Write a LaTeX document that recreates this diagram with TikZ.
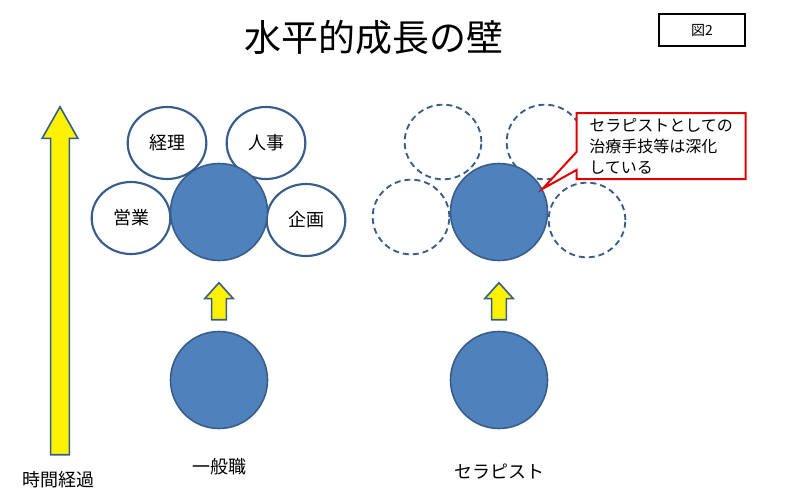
\documentclass[tikz,border=0pt]{standalone}
\usepackage{fontspec}
\setmainfont{Noto Sans CJK JP}
\usetikzlibrary{shapes,arrows,positioning}
\definecolor{fillblue}{RGB}{79,129,189}
\definecolor{lineblue}{RGB}{56,93,138}
\definecolor{calloutred}{RGB}{224,0,0}
\def\Deep{セラピストとしての\\治療手技等は深化\\している}

\begin{document}
\begin{tikzpicture}[% styles used all over the picture
				x=0.75pt,y=-0.75pt,
				every node/.style={
					align=center,	% so that "\\" breaks lines
					inner sep=0pt,
					on grid		% relative placement from centre to centre
				},
				core/.style={circle,draw=lineblue,line width=1.2pt,fill=fillblue,minimum size=72.75pt},
				skill/.style={ellipse,draw=lineblue,line width=1.6pt,fill=white,minimum width=59pt,minimum height=54pt,font=\fontsize{13.5}{16}\selectfont},
				vacant/.style={ellipse,draw=lineblue,line width=1.4pt,dash pattern=on 4.5pt off 3pt,minimum width=57.5pt,minimum height=56pt},
				risearrow/.style={single arrow,shape border rotate=90,draw=lineblue,line width=1.2pt,fill=yellow,single arrow head indent=0pt},
				caption/.style={font=\fontsize{13.5}{16}\selectfont}
			]
			\useasboundingbox (0,0) rectangle (791,500);
			% title and figure number
			\node (T) at (374,37) {\fontsize{27.75}{32}\selectfont 水平的成長の壁};
			\node[draw,line width=1.5pt,minimum width=64pt,minimum height=24pt,font=\fontsize{10.5}{12}\selectfont] (F) at (702,30) {図2};
			% time axis
			\node[risearrow,inner sep=6.4pt,single arrow head extend=6.4pt,single arrow tip angle=59,minimum height=261pt] (TA) at (60,289) {};
			\node[caption] (TL) at (58,480) {時間経過};
			% general staff
			\coordinate (G0) at (219,212);
			\node[skill] (G3) at (G0) [xshift=-39pt,yshift=51.75pt] {経理};
			\node[skill] (G4) at (G0) [xshift=35.25pt,yshift=51.75pt] {人事};
			\node[skill] (G5) at (G0) [xshift=-66pt,yshift=-4.5pt] {営業};
			\node[skill] (G6) at (G0) [xshift=65.25pt,yshift=-6pt] {企画};
			\node[core] (G2) at (G0) {};
			\node[core] (G1) at (219,380) {};
			\node[risearrow,inner sep=4.9pt,single arrow head extend=5.25pt,single arrow tip angle=84,minimum height=27.75pt] (GA) [above=56pt of G1] {};
			\node[caption] (GL) [below=65pt of G1] {一般職};
			% therapist
			\coordinate (S0) at (499,212);
			\node[vacant] (S3) at (S0) [xshift=-42pt,yshift=52.5pt] {};
			\node[vacant] (S4) at (S0) [xshift=34.5pt,yshift=52.5pt] {};
			\node[vacant] (S5) at (S0) [xshift=-66pt,yshift=-3.75pt] {};
			\node[vacant] (S6) at (S0) [xshift=66pt,yshift=-6pt] {};
			\node[core] (S2) at (S0) {};
			\node[core] (S1) at (499,380) {};
			\node[risearrow,inner sep=4.9pt,single arrow head extend=5.25pt,single arrow tip angle=84,minimum height=27.75pt] (SA) [above=56pt of S1] {};
			\node[caption] (SL) [below=69pt of S1] {セラピスト};
			% callout
			\node[rectangle callout,draw=calloutred,line width=1.5pt,fill=white,minimum width=126.75pt,minimum height=49.5pt,
				align=left,font=\fontsize{12}{15.75}\selectfont,
				callout absolute pointer={(S2.28)},callout pointer width=13.5pt] (CO) at (661,146) {\Deep};
		\end{tikzpicture}
\end{document}
